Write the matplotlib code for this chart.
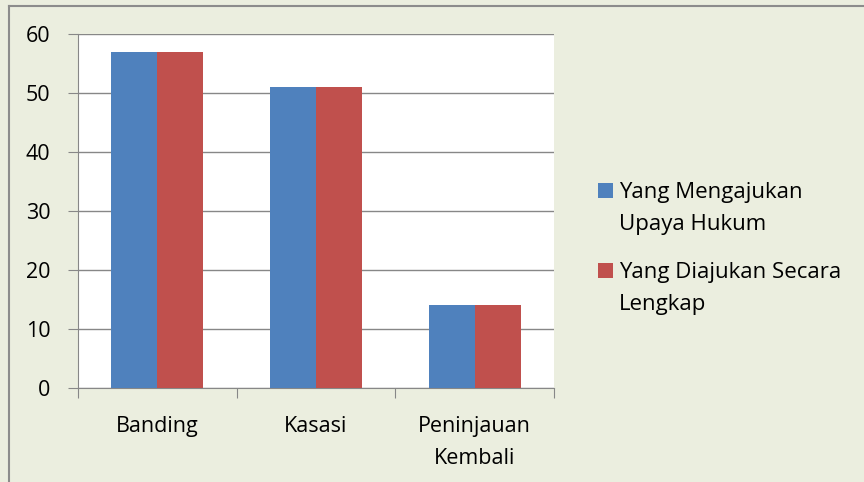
import matplotlib.pyplot as plt
import numpy as np
from matplotlib.patches import Rectangle
from matplotlib.lines import Line2D

categories = ['Banding', 'Kasasi', 'Peninjauan\nKembali']
series_names = ['Yang Mengajukan\nUpaya Hukum', 'Yang Diajukan Secara\nLengkap']
mengajukan = [57, 51, 14]
diajukan = [57, 51, 14]
series_colors = ['#4F81BD', '#C0504D']
yticks = [0, 10, 20, 30, 40, 50, 60]

plt.rcParams['font.family'] = ['Open Sans', 'DejaVu Sans']
bg = '#EBEEDF'
grid = '#878787'

fig = plt.figure(figsize=(8.64, 4.82), dpi=100)
fig.patch.set_facecolor(bg)
# outer chart border (only left and top show in the crop)
bx, by = 8.5 / 864, 1 - 5.5 / 482
fig.lines.append(Line2D([bx, bx], [0, by], transform=fig.transFigure, color='#8C8C8C', lw=1.5))
fig.lines.append(Line2D([bx, 1], [by, by], transform=fig.transFigure, color='#8C8C8C', lw=1.5))

ax = fig.add_axes([78 / 864, 94 / 482, 476 / 864, 354 / 482])
ax.set_facecolor('white')

x = np.arange(len(categories))
w = 0.29
for i, vals in enumerate([mengajukan, diajukan]):
    ax.bar(x + (i - 0.5) * w, vals, width=w, color=series_colors[i], zorder=3)

ax.set_xlim(-0.5, len(categories) - 0.5)
ax.set_ylim(0, 60)
ax.set_yticks(yticks)
ax.set_yticklabels([str(t) for t in yticks], fontsize=15.5)
ax.yaxis.grid(True, color=grid, linewidth=1, zorder=0)
ax.set_xticks(np.arange(len(categories) + 1) - 0.5)
ax.set_xticklabels([])
ax.set_xticks(x, minor=True)
ax.set_xticklabels(categories, minor=True, fontsize=15.5, linespacing=1.72, va='top')
ax.tick_params(axis='x', which='minor', length=0, pad=20)
ax.tick_params(axis='x', which='major', length=7, color=grid, direction='out')
ax.tick_params(axis='y', length=7, color=grid, pad=13)
for s in ['top', 'right']:
    ax.spines[s].set_visible(False)
for s in ['left', 'bottom']:
    ax.spines[s].set_color(grid)

# legend
ly = [183, 263]
for i, name in enumerate(series_names):
    yf = 1 - ly[i] / 482
    fig.patches.append(Rectangle((598 / 864, yf - 15 / 482), 15 / 864, 15 / 482,
                                 transform=fig.transFigure, facecolor=series_colors[i],
                                 edgecolor='none'))
    fig.text(619 / 864, yf + 1 / 482, name, fontsize=16, va='top', ha='left',
             linespacing=1.7)

fig.savefig('out.png', dpi=100, facecolor=bg)
